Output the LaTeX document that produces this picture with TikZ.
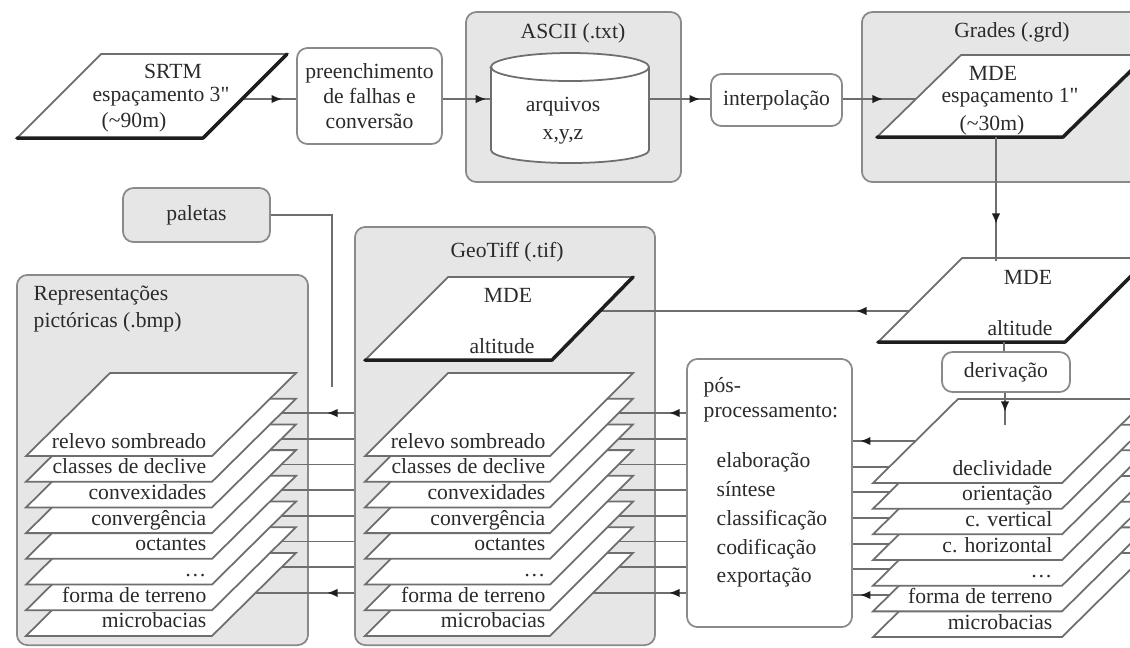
\documentclass[tikz,border=0pt]{standalone}
\usepackage{fontspec}
\setmainfont{Liberation Serif}
\newfontfamily\qfont{Liberation Serif}[Ligatures=TeXOff]
\usetikzlibrary{arrows.meta,decorations.markings}
\definecolor{linec}{HTML}{6E6E6E}
\definecolor{darkc}{HTML}{1E1E1E}
\definecolor{contfill}{HTML}{E6E6E6}
\definecolor{contdraw}{HTML}{8A8A8A}
\definecolor{textc}{HTML}{2A2A2A}
\newcommand{\dfont}{\fontsize{6.15}{7.2}\selectfont}
\newcommand{\sq}{{\qfont\char34}}
\tikzset{
 conn/.style={draw=linec, line width=0.5pt},
 arr/.style={postaction={decorate}, decoration={markings, mark=at position #1 with {\arrow[darkc]{Latex[length=3pt,width=2.4pt]}}}},
 box/.style={draw=contdraw, fill=white, rounded corners=3pt, line width=0.5pt, inner sep=0pt, align=center},
 cont/.style={draw=contdraw, fill=contfill, rounded corners=3pt, line width=0.5pt, inner sep=0pt},
 lbl/.style={inner sep=0pt},
 thinp/.style={draw=linec, line width=0.5pt, fill=white},
 thickp/.style={draw=darkc, line width=1pt, line cap=round, line join=round},
}
\begin{document}
\begin{tikzpicture}[x=0.01cm, y=-0.01cm, font=\dfont, text=textc]
\useasboundingbox (0,0) rectangle (1130,647);
\fill[white] (0,0) rectangle (1130,647);
\clip (0,0) rectangle (1130,647);

% containers
\node[cont, minimum width=2.15cm, minimum height=1.70cm] (ascii) at (573.5,97) {};
\node[lbl] (asciit) at (573,33) {ASCII (.txt)};
\node[cont, minimum width=2.98cm, minimum height=1.70cm] (grades) at (1011,97) {};
\node[lbl] (gradest) at (1012,32) {Grades (.grd)};
\node[cont, minimum width=3.00cm, minimum height=4.18cm] (geo) at (505,436) {};
\node[lbl] (geot) at (507,252) {GeoTiff (.tif)};
\node[cont, minimum width=2.91cm, minimum height=3.70cm] (repr) at (162.5,460) {};
\node[lbl, anchor=west, align=left, font=\fontsize{6.15}{7.6}\selectfont] (reprt) at (33,309) {Representações\\pictóricas (.bmp)};

% boxes
\node[box, minimum width=1.45cm, minimum height=0.96cm] (prem) at (369.5,96) {preenchimento\\de falhas e\\conversão};
\node[box, minimum width=1.31cm, minimum height=0.52cm] (interp) at (776.5,100) {interpolação};
\node[box, minimum width=1.28cm, minimum height=0.40cm] (deriv) at (1006,372) {derivação};
\node[box, minimum width=1.65cm, minimum height=2.68cm] (pos) at (769.5,493) {};
\node[lbl, anchor=west, align=left, font=\fontsize{6.15}{7.1}\selectfont] (post) at (703,399.5) {pós-\\processamento:};
\node[lbl, anchor=west, align=left, font=\fontsize{6.15}{8.2}\selectfont] (posl) at (716,520) {elaboração\\síntese\\classificação\\codificação\\exportação};
\node[cont, minimum width=1.47cm, minimum height=0.54cm] (pal) at (196.5,215) {paletas};

% coordinates of attach points
\coordinate (yl) at (0,99);
\coordinate (srtmR) at (242,99);
\coordinate (mdeL) at (916,99);
\coordinate (mdeB) at (996,137);
\coordinate (mde2T) at (996,261);
\coordinate (mde2L) at (909,311);
\coordinate (mde2B) at (1004,342);
\coordinate (gmdeR) at (600,311);
\coordinate (rsT) at (1005,425);
\coordinate (palend) at (332,387);
\node[minimum width=1.58cm, minimum height=1.10cm, inner sep=0pt] (cyl) at (570,108) {};

\foreach \k in {0,...,6}{\pgfmathsetmacro\yb{483+25.67*\k}\coordinate (rs\k) at (915,{\yb-42});}
\foreach \k in {0,...,7}{\pgfmathsetmacro\yb{456+25.7*\k}\coordinate (gs\k) at (593,{\yb-43});\coordinate (ps\k) at (256,{\yb-43});}

% stack connectors (behind layers)
\foreach \k in {1,...,5}{\draw[conn] (rs\k) -- (rs\k -| pos.east);}
\foreach \k in {0,6}{\draw[conn, arr=-0.07cm] (rs\k) -- (rs\k -| pos.east);}
\foreach \k in {1,...,6}{\draw[conn] (gs\k -| pos.west) -- (gs\k);}
\foreach \k in {0,7}{\draw[conn, arr=0.17cm] (gs\k -| pos.west) -- (gs\k);}
\foreach \k in {1,...,6}{\draw[conn] (ps\k -| geo.west) -- (ps\k);}
\foreach \k in {0,7}{\draw[conn, arr=0.27cm] (ps\k -| geo.west) -- (ps\k);}
\draw[conn] (pal.east) -| (palend);

% top chain connectors
\draw[conn, arr=-0.14cm] (srtmR) -- (prem.west |- yl);
\draw[conn, arr=-0.04cm] (prem.east |- yl) -- (cyl.west |- yl);
\draw[conn, arr=-0.10cm] (cyl.east |- yl) -- (interp.west |- yl);
\draw[conn, arr=-0.33cm] (interp.east |- yl) -- (mdeL);
\draw[conn, arr=0.53cm] (mde2L) -- (gmdeR);

% SRTM
\draw[thinp] (17,138) -- (101,54) -- (287,54) -- (203,138) -- cycle;
\draw[thickp] (17,138) -- (203,138) -- (287,54);
\node[lbl] (srtm1) at (173,71) {SRTM};
\node[lbl] (srtm2) at (161,97) {espaçamento 3\sq};
\node[lbl] (srtm3) at (134,122) {(\textasciitilde90m)};

% cylinder
\draw[thinp] (491,67) -- (491,150) arc[start angle=180, end angle=360, x radius=0.79cm, y radius=0.13cm] -- (649,67) arc[start angle=0, end angle=180, x radius=0.79cm, y radius=0.14cm] -- cycle;
\draw[conn] (491,67) arc[start angle=180, end angle=360, x radius=0.79cm, y radius=0.14cm];
\node[lbl, align=center, font=\fontsize{6.15}{8}\selectfont] (cylt) at (563,121) {arquivos\\x,y,z};

% MDE (grades)
\draw[thinp] (877,137) -- (961,55) -- (1147,55) -- (1063,137) -- cycle;
\draw[thickp] (877,137) -- (1063,137) -- (1147,55);
\node[lbl] (mde1) at (993,73) {MDE};
\node[lbl] (mde2) at (1010,98) {espaçamento 1\sq};
\node[lbl] (mde3) at (992,125) {(\textasciitilde30m)};

% MDE altitude (right)
\draw[thinp] (878,342) -- (962,258) -- (1149,258) -- (1065,342) -- cycle;
\draw[thickp] (878,342) -- (1065,342) -- (1149,258);
\node[lbl] (mdeb1) at (1028,277) {MDE};
\node[lbl] (mdeb2) at (1020,328) {altitude};

% MDE altitude (GeoTiff)
\draw[thinp] (365,360) -- (448,277) -- (633,277) -- (552,360) -- cycle;
\draw[thickp] (365,360) -- (552,360) -- (633,277);
\node[lbl] (gmde1) at (508,295) {MDE};
\node[lbl] (gmde2) at (502,346) {altitude};

% right stack
\foreach \k/\lab in {6/microbacias,5/forma de terreno,4/{\ldots},3/c. horizontal,2/c. vertical,1/orientação,0/declividade}{
 \pgfmathsetmacro\yb{483+25.67*\k}
 \draw[thinp] (873,\yb) -- (958,{\yb-84}) -- (1147,{\yb-84}) -- (1062,\yb) -- cycle;
 \node[lbl, anchor=base east] (rsl\k) at (1053,{\yb-8}) {\lab};
}
% GeoTiff stack
\foreach \k/\lab in {7/microbacias,6/forma de terreno,5/{\ldots},4/octantes,3/convergência,2/convexidades,1/classes de declive,0/relevo sombreado}{
 \pgfmathsetmacro\yb{456+25.7*\k}
 \draw[thinp] (365,\yb) -- (448,{\yb-83}) -- (633,{\yb-83}) -- (550,\yb) -- cycle;
 \node[lbl, anchor=base east] (gsl\k) at (546,{\yb-8}) {\lab};
}
% pictorial stack
\foreach \k/\lab in {7/microbacias,6/forma de terreno,5/{\ldots},4/octantes,3/convergência,2/convexidades,1/classes de declive,0/relevo sombreado}{
 \pgfmathsetmacro\yb{456+25.7*\k}
 \draw[thinp] (26,\yb) -- (110,{\yb-83}) -- (296,{\yb-83}) -- (212,\yb) -- cycle;
 \node[lbl, anchor=base east] (psl\k) at (207,{\yb-8}) {\lab};
}

% connectors on top
\draw[conn, arr=-0.37cm] (mdeB) -- (mde2T);
\draw[conn] (mde2B) -- (mde2B |- deriv.north);
\draw[conn, arr=-0.13cm] (deriv.south -| rsT) -- (rsT);
\end{tikzpicture}
\end{document}
